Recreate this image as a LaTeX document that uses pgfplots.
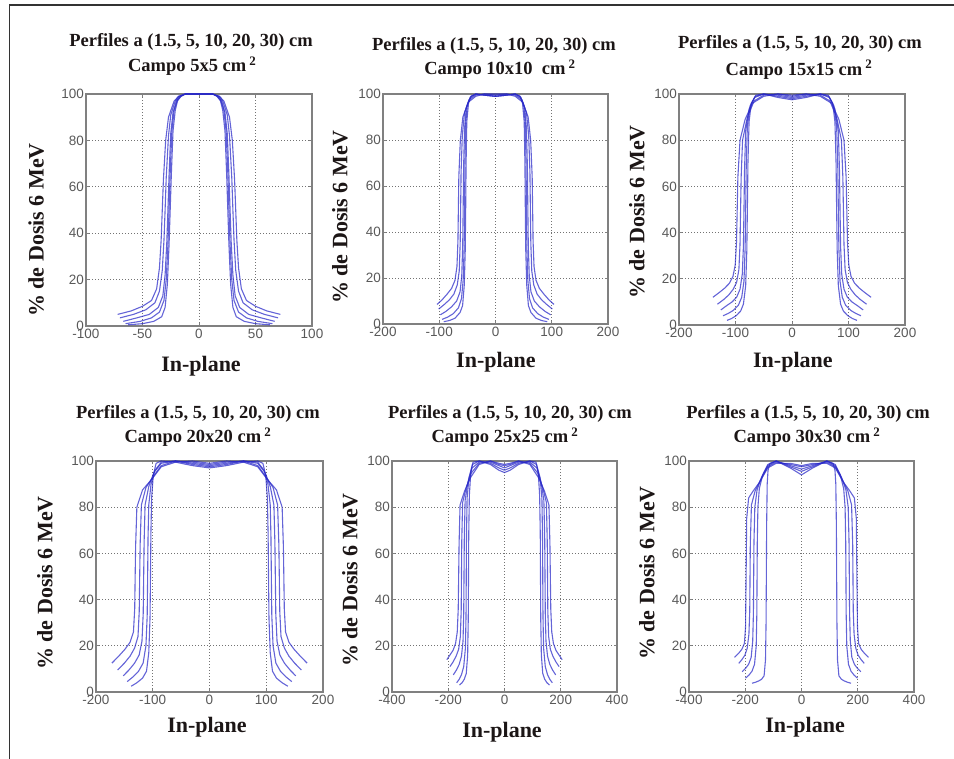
\documentclass[border=0pt]{standalone}
\usepackage{fontspec}
\setmainfont{Liberation Serif}
\newfontfamily\ticksfont{Liberation Sans}
\usepackage{pgfplots}
\pgfplotsset{compat=1.18}
\definecolor{profblue}{RGB}{40,40,200}
\definecolor{txt}{RGB}{28,22,22}
\newcommand\ttl{\fontsize{18.5bp}{22bp}\selectfont\bfseries}
\newcommand\lab{\fontsize{22bp}{26bp}\selectfont\bfseries}
\pgfplotsset{
  panel/.style={
    scale only axis, width=226bp, height=231bp, anchor=south west,
    ymin=0, ymax=100, ytick={0,20,40,60,80,100}, yticklabels={0,20,40,60,80,100},
    grid=major,
    major grid style={black!55, line width=0.7bp, dash pattern=on 0.8bp off 2.2bp},
    axis line style={black!50, line width=1.1bp},
    tick style={black!50, line width=0.7bp},
    tick align=inside, major tick length=3bp,
    ticklabel style={font=\ticksfont\fontsize{13.5bp}{13.5bp}\selectfont, text=black!65},
    yticklabel style={inner sep=2bp},
    xticklabel style={inner sep=2bp, yshift=-1bp},
    clip mode=individual,
  },
  prof/.style={profblue, line width=1.1bp, opacity=0.72, line join=round, mark=none},
}
\begin{document}
\begin{tikzpicture}
\path[use as bounding box] (0,0) rectangle (954bp,759bp);
\draw[line width=1.8bp, black!80] (9.5bp,0bp) -- (9.5bp,754bp) -- (954bp,754bp);

% ---------- Panel 1: 5x5 ----------
\begin{axis}[panel, at={(86bp,433bp)}, width=226bp, height=232bp,
  xmin=-100, xmax=100, xtick={-100,-50,0,50,100}, xticklabels={-100,-50,0,50,100}]
\addplot[prof] coordinates {(-63,0.5) (-50,1) (-40,2) (-33,4) (-30,8) (-28,18) (-26.5,35) (-25.5,50) (-24.5,65) (-23,84) (-21,93) (-19,97) (-16,99) (-12,100) (0,100) (12,100) (16,99) (19,97) (21,93) (23,84) (24.5,65) (25.5,50) (26.5,35) (28,18) (30,8) (33,4) (40,2) (50,1) (63,0.5)};
\addplot[prof] coordinates {(-65,1) (-52,2) (-42,3.5) (-35,6) (-31,11) (-29,20) (-27.5,35) (-26.5,50) (-25.5,66) (-24,84) (-22,93) (-19,97.5) (-16,99) (-12,100) (0,100) (12,100) (16,99) (19,97.5) (22,93) (24,84) (25.5,66) (26.5,50) (27.5,35) (29,20) (31,11) (35,6) (42,3.5) (52,2) (65,1)};
\addplot[prof] coordinates {(-67,2) (-55,3.5) (-44,5) (-36,8) (-32,13) (-30,22) (-28.5,36) (-27.5,50) (-26.5,65) (-25,83) (-23,92) (-20,97) (-17,99) (-12,100) (0,100) (12,100) (17,99) (20,97) (23,92) (25,83) (26.5,65) (27.5,50) (28.5,36) (30,22) (32,13) (36,8) (44,5) (55,3.5) (67,2)};
\addplot[prof] coordinates {(-70,3.5) (-58,5) (-47,7) (-39,10) (-35,15) (-32.5,24) (-31,37) (-30,50) (-29,64) (-27,82) (-25,91) (-21,97) (-18,99) (-12,100) (0,100) (12,100) (18,99) (21,97) (25,91) (27,82) (29,64) (30,50) (31,37) (32.5,24) (35,15) (39,10) (47,7) (58,5) (70,3.5)};
\addplot[prof] coordinates {(-72,5) (-60,6.5) (-50,8.5) (-42,11) (-37.5,16) (-35,25) (-33.5,37) (-32.5,50) (-31.5,63) (-29.5,80) (-27,90) (-22,97) (-18,99) (-12,100) (0,100) (12,100) (18,99) (22,97) (27,90) (29.5,80) (31.5,63) (32.5,50) (33.5,37) (35,25) (37.5,16) (42,11) (50,8.5) (60,6.5) (72,5)};
\node[anchor=base, text=txt, font=\ttl] at (rel axis cs:0.465,1.203) {Perfiles a (1.5, 5, 10, 20, 30) cm};
\node[anchor=base, text=txt, font=\ttl] at (rel axis cs:0.47,1.095) {Campo 5x5 cm\,\textsuperscript{2}};
\node[rotate=90, anchor=center, text=txt, font=\lab] at (rel axis cs:-0.221,0.414) {\% de Dosis 6 MeV};
\node[anchor=base, text=txt, font=\lab] at (rel axis cs:0.509,-0.198) {In-plane};
\end{axis}

% ---------- Panel 2: 10x10 ----------
\begin{axis}[panel, at={(383bp,435bp)}, width=225bp, height=230bp,
  xmin=-200, xmax=200, xtick={-200,-100,0,100,200}, xticklabels={-200,-100,0,100,200}]
\addplot[prof] coordinates {(-92,1) (-82,1.5) (-72,2.5) (-63,5) (-58.5,8) (-55.5,17) (-53.8,32) (-53,50) (-52.3,70) (-51,88) (-48,96) (-43,99) (-35,100) (-20,99.5) (0,99) (20,99.5) (35,100) (43,99) (48,96) (51,88) (52.3,70) (53,50) (53.8,32) (55.5,17) (58.5,8) (63,5) (72,2.5) (82,1.5) (92,1)};
\addplot[prof] coordinates {(-95,2) (-85,3) (-75,4.5) (-66,7) (-60.5,11) (-57.5,19) (-55.8,33) (-55,50) (-54.3,70) (-53,87) (-50,95.5) (-44,99) (-35,100) (-20,99.5) (0,99) (20,99.5) (35,100) (44,99) (50,95.5) (53,87) (54.3,70) (55,50) (55.8,33) (57.5,19) (60.5,11) (66,7) (75,4.5) (85,3) (95,2)};
\addplot[prof] coordinates {(-98,4) (-88,5.5) (-78,7.5) (-69,10) (-63,14) (-60,21) (-58.3,34) (-57.5,50) (-56.7,68) (-55,85) (-52,94) (-45,98.5) (-35,100) (-20,99.5) (0,99) (20,99.5) (35,100) (45,98.5) (52,94) (55,85) (56.7,68) (57.5,50) (58.3,34) (60,21) (63,14) (69,10) (78,7.5) (88,5.5) (98,4)};
\addplot[prof] coordinates {(-101,6.5) (-91,8.5) (-82,10.5) (-74,13) (-68,17) (-64.5,23) (-62.8,35) (-62,50) (-61.2,66) (-59,82) (-55,92) (-47,97.5) (-35,99.5) (-20,100) (0,99.5) (20,100) (35,99.5) (47,97.5) (55,92) (59,82) (61.2,66) (62,50) (62.8,35) (64.5,23) (68,17) (74,13) (82,10.5) (91,8.5) (101,6.5)};
\addplot[prof] coordinates {(-104,8.5) (-95,10.5) (-86,13) (-78,15.5) (-72,19) (-68.5,25) (-66.8,36) (-66,50) (-65.2,64) (-62.5,80) (-58,90) (-48,96.5) (-35,99) (-20,100) (0,100) (20,100) (35,99) (48,96.5) (58,90) (62.5,80) (65.2,64) (66,50) (66.8,36) (68.5,25) (72,19) (78,15.5) (86,13) (95,10.5) (104,8.5)};
\node[anchor=base, text=txt, font=\ttl] at (rel axis cs:0.493,1.191) {Perfiles a (1.5, 5, 10, 20, 30) cm};
\node[anchor=base, text=txt, font=\ttl] at (rel axis cs:0.52,1.083) {Campo 10x10\ \ cm\,\textsuperscript{2}};
\node[rotate=90, anchor=center, text=txt, font=\lab] at (rel axis cs:-0.191,0.465) {\% de Dosis 6 MeV};
\node[anchor=base, text=txt, font=\lab] at (rel axis cs:0.502,-0.191) {In-plane};
\end{axis}

% ---------- Panel 3: 15x15 ----------
\begin{axis}[panel, at={(679bp,434bp)}, width=226bp, height=231bp,
  xmin=-200, xmax=200, xtick={-200,-100,0,100,200}, xticklabels={-200,-100,0,100,200}]
\addplot[prof] coordinates {(-115,2) (-107,2.8) (-99,4) (-91,6) (-86,9) (-82,17) (-80,32) (-79,50) (-78,70) (-76,88) (-72,96) (-64,99.5) (-50,100) (-25,98.5) (0,97.5) (25,98.5) (50,100) (64,99.5) (72,96) (76,88) (78,70) (79,50) (80,32) (82,17) (86,9) (91,6) (99,4) (107,2.8) (115,2)};
\addplot[prof] coordinates {(-122,4) (-113,5) (-104,6.3) (-95,8.5) (-89,12) (-85,19) (-83,33) (-82,50) (-81,69) (-79,86) (-74,95) (-65,99) (-50,100) (-25,99) (0,98) (25,99) (50,100) (65,99) (74,95) (79,86) (81,69) (82,50) (83,33) (85,19) (89,12) (95,8.5) (104,6.3) (113,5) (122,4)};
\addplot[prof] coordinates {(-126,6.5) (-115,8.5) (-106,10) (-98,12) (-92,15.5) (-88,22) (-86,34) (-85,50) (-84,67) (-82,84) (-76,93.5) (-66,98.5) (-50,100) (-25,99.5) (0,98.5) (25,99.5) (50,100) (66,98.5) (76,93.5) (82,84) (84,67) (85,50) (86,34) (88,22) (92,15.5) (98,12) (106,10) (115,8.5) (126,6.5)};
\addplot[prof] coordinates {(-132,9) (-121,11) (-112,13) (-104,15.5) (-98,18.5) (-94,24) (-92,35) (-91,50) (-90,64) (-87.5,80) (-79,90) (-67,97) (-50,99.5) (-25,100) (0,99) (25,100) (50,99.5) (67,97) (79,90) (87.5,80) (90,64) (91,50) (92,35) (94,24) (98,18.5) (104,15.5) (112,13) (121,11) (132,9)};
\addplot[prof] coordinates {(-140,12) (-129,14) (-119,16) (-111,18) (-104.5,21) (-100.5,26) (-98.2,36) (-97,50) (-95.8,64) (-92,80) (-83,89) (-70,96) (-50,99) (-25,100) (0,99.5) (25,100) (50,99) (70,96) (83,89) (92,80) (95.8,64) (97,50) (98.2,36) (100.5,26) (104.5,21) (111,18) (119,16) (129,14) (140,12)};
\node[anchor=base, text=txt, font=\ttl] at (rel axis cs:0.535,1.199) {Perfiles a (1.5, 5, 10, 20, 30) cm};
\node[anchor=base, text=txt, font=\ttl] at (rel axis cs:0.531,1.082) {Campo 15x15 cm\,\textsuperscript{2}};
\node[rotate=90, anchor=center, text=txt, font=\lab] at (rel axis cs:-0.186,0.489) {\% de Dosis 6 MeV};
\node[anchor=base, text=txt, font=\lab] at (rel axis cs:0.504,-0.186) {In-plane};
\end{axis}

% ---------- Panel 4: 20x20 ----------
\begin{axis}[panel, at={(96bp,67bp)}, width=227bp, height=231bp,
  xmin=-200, xmax=200, xtick={-200,-100,0,100,200}, xticklabels={-200,-100,0,100,200}]
\addplot[prof] coordinates {(-138,2.5) (-128,4) (-118,6) (-111,9) (-107,17) (-104.8,32) (-104,50) (-103.3,68) (-102,84) (-99,94) (-94,99) (-85,100) (-60,99.5) (-30,98) (0,97) (30,98) (60,99.5) (85,100) (94,99) (99,94) (102,84) (103.3,68) (104,50) (104.8,32) (107,17) (111,9) (118,6) (128,4) (138,2.5)};
\addplot[prof] coordinates {(-145,4.5) (-135,6.5) (-125,9) (-117,12.5) (-112,20) (-109.8,33) (-109,50) (-108.3,67) (-107,81) (-103,90) (-96,96) (-85,99.5) (-60,100) (-30,98.5) (0,97.5) (30,98.5) (60,100) (85,99.5) (96,96) (103,90) (107,81) (108.3,67) (109,50) (109.8,33) (112,20) (117,12.5) (125,9) (135,6.5) (145,4.5)};
\addplot[prof] coordinates {(-152,7) (-142,9.5) (-132,12.5) (-124,16) (-119,22) (-116.8,34) (-116,50) (-115.2,65) (-113.5,81) (-107,89) (-98,95) (-85,99) (-60,100) (-30,99) (0,98) (30,99) (60,100) (85,99) (98,95) (107,89) (113.5,81) (115.2,65) (116,50) (116.8,34) (119,22) (124,16) (132,12.5) (142,9.5) (152,7)};
\addplot[prof] coordinates {(-162,9.5) (-150,12.5) (-140,15.5) (-132,19) (-126,24) (-123.8,35) (-123,50) (-122.2,64) (-120,81) (-112,88.5) (-100,93) (-85,98) (-60,100) (-30,99.5) (0,98.5) (30,99.5) (60,100) (85,98) (100,93) (112,88.5) (120,81) (122.2,64) (123,50) (123.8,35) (126,24) (132,19) (140,15.5) (150,12.5) (162,9.5)};
\addplot[prof] coordinates {(-172,12.5) (-160,15.5) (-149,18.5) (-140,21.5) (-134,26) (-131.8,36) (-131,50) (-130.2,63) (-128,80) (-118,87.5) (-102,92) (-85,97.5) (-60,99.5) (-30,100) (0,99) (30,100) (60,99.5) (85,97.5) (102,92) (118,87.5) (128,80) (130.2,63) (131,50) (131.8,36) (134,26) (140,21.5) (149,18.5) (160,15.5) (172,12.5)};
\node[anchor=base, text=txt, font=\ttl] at (rel axis cs:0.449,1.186) {Perfiles a (1.5, 5, 10, 20, 30) cm};
\node[anchor=base, text=txt, font=\ttl] at (rel axis cs:0.449,1.078) {Campo 20x20 cm\,\textsuperscript{2}};
\node[rotate=90, anchor=center, text=txt, font=\lab] at (rel axis cs:-0.225,0.472) {\% de Dosis 6 MeV};
\node[anchor=base, text=txt, font=\lab] at (rel axis cs:0.489,-0.177) {In-plane};
\end{axis}

% ---------- Panel 5: 25x25 ----------
\begin{axis}[panel, at={(392bp,67bp)}, width=225bp, height=231bp,
  xmin=-400, xmax=400, xtick={-400,-200,0,200,400}, xticklabels={-400,-200,0,200,400}]
\addplot[prof] coordinates {(-160,3) (-151,4) (-143,5.5) (-136,8) (-131,16) (-128.8,32) (-128,50) (-127.2,68) (-125,85) (-120,95) (-112,99.5) (-90,100) (-50,98.5) (-20,96) (0,95) (20,96) (50,98.5) (90,100) (112,99.5) (120,95) (125,85) (127.2,68) (128,50) (128.8,32) (131,16) (136,8) (143,5.5) (151,4) (160,3)};
\addplot[prof] coordinates {(-170,4) (-161,5.5) (-153,7.5) (-145,11) (-139,19) (-136.8,33) (-136,50) (-135.2,67) (-133,84) (-126,93) (-114,98.5) (-90,100) (-50,99) (-20,97) (0,96) (20,97) (50,99) (90,100) (114,98.5) (126,93) (133,84) (135.2,67) (136,50) (136.8,33) (139,19) (145,11) (153,7.5) (161,5.5) (170,4)};
\addplot[prof] coordinates {(-182,7.4) (-171,9.5) (-161,12) (-153,15.5) (-147.5,22) (-145,34) (-144,50) (-143,66) (-140,83) (-130,91) (-115,97) (-90,99.5) (-50,99.5) (-20,98) (0,97) (20,98) (50,99.5) (90,99.5) (115,97) (130,91) (140,83) (143,66) (144,50) (145,34) (147.5,22) (153,15.5) (161,12) (171,9.5) (182,7.4)};
\addplot[prof] coordinates {(-194,11) (-183,13) (-172,15.5) (-163,18.5) (-157,24) (-154,35) (-153,50) (-152,65) (-149,82) (-135,89) (-117,95) (-90,99) (-50,100) (-20,98.5) (0,98) (20,98.5) (50,100) (90,99) (117,95) (135,89) (149,82) (152,65) (153,50) (154,35) (157,24) (163,18.5) (172,15.5) (183,13) (194,11)};
\addplot[prof] coordinates {(-205,14) (-194,16) (-183,18) (-174,21) (-168,26) (-164.5,36) (-163,50) (-161.5,64) (-158,81) (-142,87) (-120,93) (-90,98.5) (-50,100) (-20,99) (0,98.5) (20,99) (50,100) (90,98.5) (120,93) (142,87) (158,81) (161.5,64) (163,50) (164.5,36) (168,26) (174,21) (183,18) (194,16) (205,14)};
\node[anchor=base, text=txt, font=\ttl] at (rel axis cs:0.524,1.186) {Perfiles a (1.5, 5, 10, 20, 30) cm};
\node[anchor=base, text=txt, font=\ttl] at (rel axis cs:0.502,1.078) {Campo 25x25 cm\,\textsuperscript{2}};
\node[rotate=90, anchor=center, text=txt, font=\lab] at (rel axis cs:-0.187,0.485) {\% de Dosis 6 MeV};
\node[anchor=base, text=txt, font=\lab] at (rel axis cs:0.489,-0.195) {In-plane};
\end{axis}

% ---------- Panel 6: 30x30 ----------
\begin{axis}[panel, at={(689bp,67bp)}, width=225bp, height=231bp,
  xmin=-400, xmax=400, xtick={-400,-200,0,200,400}, xticklabels={-400,-200,0,200,400}]
\addplot[prof] coordinates {(-176,3.8) (-164,4.2) (-152,4.8) (-142,5.5) (-133,7) (-128,14) (-126,30) (-125,50) (-124,72) (-122,90) (-119,96) (-112,99) (-90,100) (-40,97) (0,94) (40,97) (90,100) (112,99) (119,96) (122,90) (124,72) (125,50) (126,30) (128,14) (133,7) (142,5.5) (152,4.8) (164,4.2) (176,3.8)};
\addplot[prof] coordinates {(-199,6) (-187,7.3) (-176,9) (-167,12) (-161,20) (-158.8,34) (-158,50) (-157.2,65) (-155,80) (-150,88) (-138,94) (-120,98.5) (-90,100) (-40,97.5) (0,95.5) (40,97.5) (90,100) (120,98.5) (138,94) (150,88) (155,80) (157.2,65) (158,50) (158.8,34) (161,20) (167,12) (176,9) (187,7.3) (199,6)};
\addplot[prof] coordinates {(-211,8.8) (-199,10.2) (-188,12) (-179,15) (-173.5,22) (-171,34) (-170,50) (-169,65) (-166,80) (-158,87.5) (-142,93) (-120,98) (-90,100) (-40,98) (0,96.5) (40,98) (90,100) (120,98) (142,93) (158,87.5) (166,80) (169,65) (170,50) (171,34) (173.5,22) (179,15) (188,12) (199,10.2) (211,8.8)};
\addplot[prof] coordinates {(-223,12.4) (-212,14) (-201,16) (-193,19) (-187,25) (-184,35) (-183,50) (-182,64) (-178,81) (-165,87) (-145,92) (-120,97.5) (-90,99.5) (-40,98.5) (0,97.5) (40,98.5) (90,99.5) (120,97.5) (145,92) (165,87) (178,81) (182,64) (183,50) (184,35) (187,25) (193,19) (201,16) (212,14) (223,12.4)};
\addplot[prof] coordinates {(-238,15) (-230,16) (-222,17) (-212,18.5) (-203,21) (-199,28) (-197,50) (-195,75) (-188,84) (-172,87) (-148,91) (-120,97) (-90,99) (-40,99) (0,98) (40,99) (90,99) (120,97) (148,91) (172,87) (188,84) (195,75) (197,50) (199,28) (203,21) (212,18.5) (222,17) (230,16) (238,15)};
\node[anchor=base, text=txt, font=\ttl] at (rel axis cs:0.529,1.186) {Perfiles a (1.5, 5, 10, 20, 30) cm};
\node[anchor=base, text=txt, font=\ttl] at (rel axis cs:0.524,1.078) {Campo 30x30 cm\,\textsuperscript{2}};
\node[rotate=90, anchor=center, text=txt, font=\lab] at (rel axis cs:-0.187,0.515) {\% de Dosis 6 MeV};
\node[anchor=base, text=txt, font=\lab] at (rel axis cs:0.516,-0.177) {In-plane};
\end{axis}
\end{tikzpicture}
\end{document}
